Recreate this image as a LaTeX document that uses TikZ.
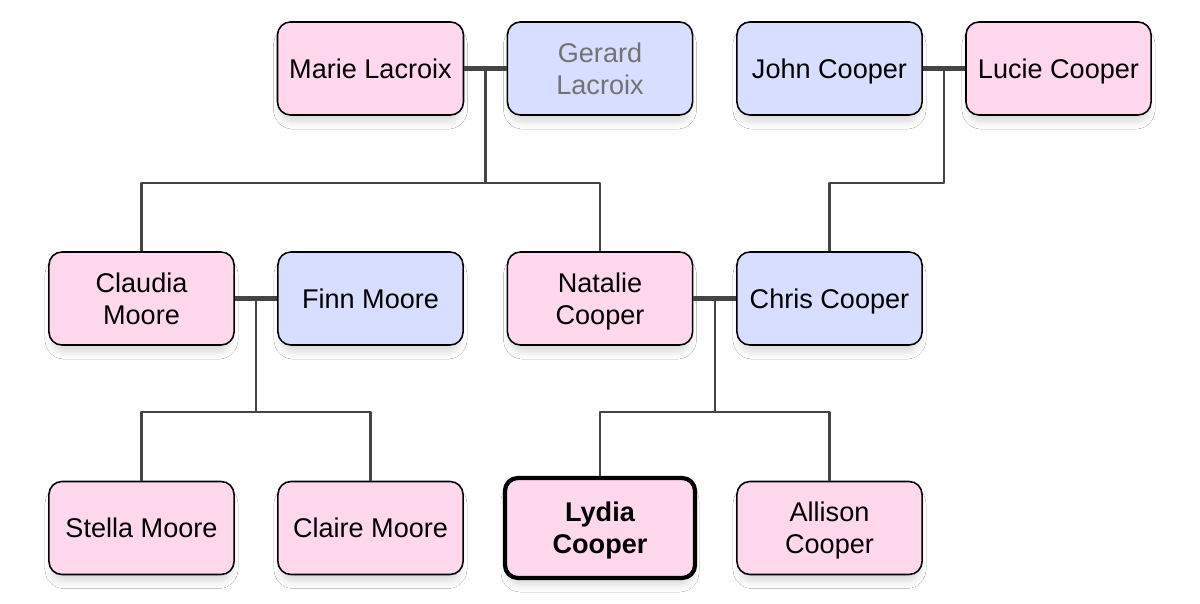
\documentclass[tikz,border=0pt]{standalone}
\usepackage{fontspec}
\setmainfont{Liberation Sans}
\usepackage{tikz}
\usetikzlibrary{calc,shadows.blur}
\definecolor{girl}{HTML}{FFD8EE}
\definecolor{boy}{HTML}{D8DEFF}
\definecolor{wire}{HTML}{444444}
\tikzset{
  person/.style={draw=black,line width=0.45pt,rounded corners=0.13cm,
    minimum width=1.85cm,minimum height=0.93cm,align=center,text depth=0pt,
    font=\fontsize{7.7}{9.2}\selectfont,
    blur shadow={shadow xshift=0pt,shadow yshift=-0.09cm,shadow scale=0.97,
      shadow blur radius=0.07cm,shadow blur steps=6,shadow opacity=14}},
  her/.style={person,fill=girl},
  him/.style={person,fill=boy},
  me/.style={her,line width=1.2pt,minimum width=1.9cm,minimum height=1.0cm,font=\fontsize{7.7}{9.2}\selectfont\bfseries},
  couple/.style={wire,line width=1.5pt},
  kid/.style={wire,line width=0.65pt}
}
\begin{document}
\begin{tikzpicture}[x=0.01cm,y=-0.01cm,line join=round]
\useasboundingbox[fill=white] (0,0) rectangle (1200,604);
% grandparents
\node[her] (marie) at (370.5,68.5) {Marie Lacroix};
\node[him,text=black!55] (gerard) at (600,68.5) {Gerard\\Lacroix};
\node[him] (john) at (829.5,68.5) {John Cooper};
\node[her] (lucie) at (1058.5,68.5) {Lucie Cooper};
% parents
\node[her] (claudia) at (141.5,298.5) {Claudia\\Moore};
\node[him] (finn) at (370.5,298.5) {Finn Moore};
\node[her] (natalie) at (600,298.5) {Natalie\\Cooper};
\node[him] (chris) at (829.5,298.5) {Chris Cooper};
% children
\node[her] (stella) at (141.5,528) {Stella Moore};
\node[her] (claire) at (370.5,528) {Claire Moore};
\node[me] (lydia) at (600,528) {Lydia\\Cooper};
\node[her] (allison) at (829.5,528) {Allison\\Cooper};
% marriages
\draw[couple] (marie) -- (gerard);
\draw[couple] (john) -- (lucie);
\draw[couple] (claudia) -- (finn);
\draw[couple] (natalie) -- (chris);
\coordinate (m1) at ($(marie.east)!0.5!(gerard.west)$);
\coordinate (m2) at ($(john.east)!0.5!(lucie.west)$);
\coordinate (m3) at ($(claudia.east)!0.5!(finn.west)$);
\coordinate (m4) at ($(natalie.east)!0.5!(chris.west)$);
\coordinate (f1) at (m1 |- 0,183);
\coordinate (f2) at (m2 |- 0,183);
\coordinate (f3) at (m3 |- 0,412);
\coordinate (f4) at (m4 |- 0,412);
% descent
\draw[kid] (m1) -- (f1);
\draw[kid] (claudia.north) |- (f1) -| (natalie.north);
\draw[kid] (m2) -- (f2) -| (chris.north);
\draw[kid] (m3) -- (f3);
\draw[kid] (stella.north) |- (f3) -| (claire.north);
\draw[kid] (m4) -- (f4);
\draw[kid] (lydia.north) |- (f4) -| (allison.north);
\end{tikzpicture}
\end{document}
